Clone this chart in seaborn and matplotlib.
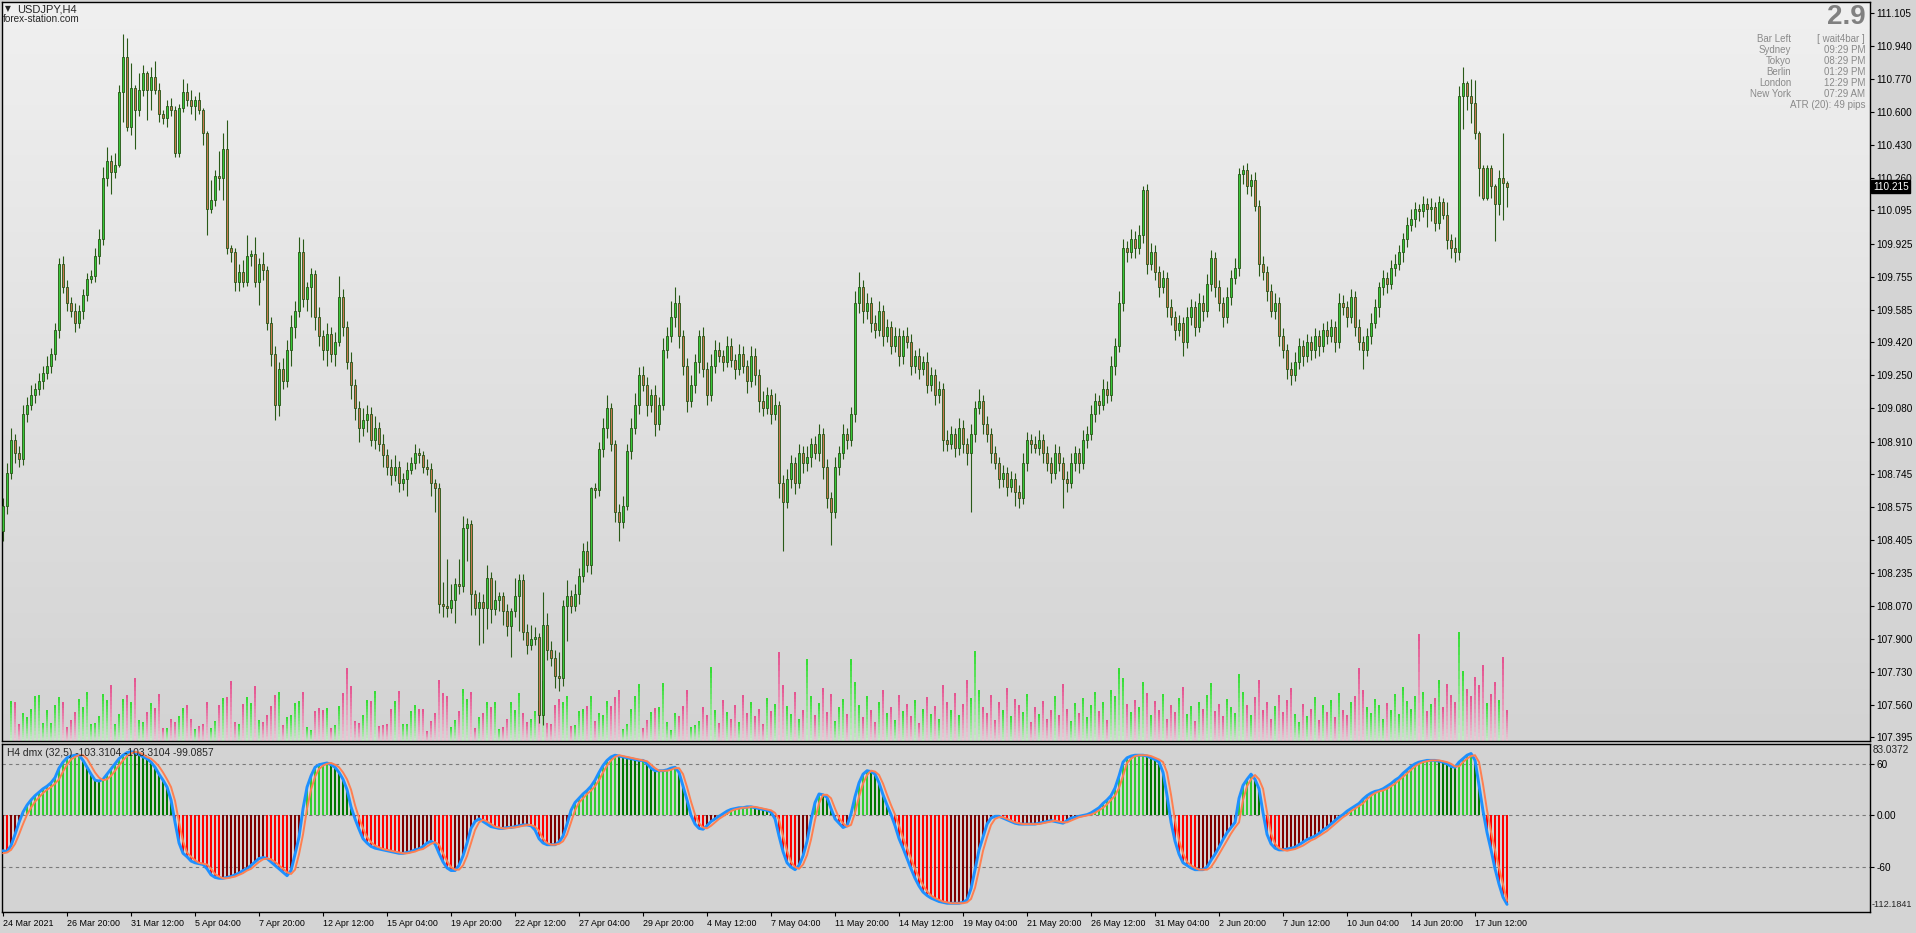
import numpy as np
import pandas as pd
import matplotlib.pyplot as plt
import seaborn as sns
from matplotlib.colors import LinearSegmentedColormap, to_rgb

# ---- values (377 bars) ----
first_open = 108.45
close = [
    108.58, 108.75, 108.92, 108.85, 108.82, 109.05, 109.10, 109.15, 109.18, 109.22,
    109.26, 109.30, 109.36, 109.48, 109.82, 109.70, 109.62, 109.58, 109.52, 109.58,
    109.66, 109.745, 109.76, 109.86, 109.95, 110.26, 110.35, 110.29, 110.33, 110.70,
    110.88, 110.52, 110.72, 110.61, 110.71, 110.80, 110.71, 110.78, 110.71, 110.59,
    110.57, 110.63, 110.61, 110.39, 110.62, 110.70, 110.66, 110.63, 110.66, 110.61,
    110.49, 110.10, 110.15, 110.27, 110.26, 110.41, 109.90, 109.88, 109.73, 109.78,
    109.73, 109.86, 109.87, 109.73, 109.82, 109.79, 109.52, 109.36, 109.10, 109.28,
    109.22, 109.38, 109.50, 109.58, 109.88, 109.64, 109.70, 109.77, 109.55, 109.45,
    109.38, 109.46, 109.36, 109.42, 109.65, 109.50, 109.32, 109.20, 109.08, 108.98,
    109.02, 109.05, 108.92, 108.98, 108.90, 108.84, 108.78, 108.74, 108.78, 108.70,
    108.72, 108.765, 108.80, 108.85, 108.84, 108.78, 108.77, 108.70, 108.67, 108.08,
    108.07, 108.06, 108.10, 108.18, 108.17, 108.47, 108.49, 108.13, 108.06, 108.09,
    108.06, 108.21, 108.05, 108.10, 108.12, 108.04, 107.965, 108.04, 108.12, 108.20,
    107.935, 107.87, 107.90, 107.91, 107.51, 107.97, 107.84, 107.80, 107.71, 107.70,
    108.07, 108.12, 108.07, 108.13, 108.22, 108.35, 108.28, 108.67, 108.66, 108.87,
    108.98, 109.08, 108.90, 108.55, 108.50, 108.58, 108.86, 108.98, 109.10, 109.25,
    109.20, 109.10, 109.15, 109.00, 109.10, 109.38, 109.45, 109.55, 109.62, 109.45,
    109.30, 109.12, 109.20, 109.32, 109.45, 109.28, 109.15, 109.30, 109.38, 109.35,
    109.32, 109.40, 109.33, 109.28, 109.36, 109.30, 109.22, 109.35, 109.25, 109.12,
    109.08, 109.15, 109.05, 109.10, 108.70, 108.60, 108.72, 108.80, 108.70, 108.85,
    108.80, 108.83, 108.90, 108.85, 108.95, 108.78, 108.62, 108.55, 108.78, 108.85,
    108.95, 108.92, 109.05, 109.62, 109.70, 109.58, 109.62, 109.52, 109.48, 109.58,
    109.45, 109.50, 109.40, 109.45, 109.35, 109.45, 109.42, 109.30, 109.35, 109.28,
    109.32, 109.20, 109.25, 109.15, 109.18, 108.92, 108.90, 108.95, 108.88, 108.98,
    108.90, 108.85, 108.95, 109.08, 109.12, 109.00, 108.95, 108.85, 108.80, 108.72,
    108.75, 108.68, 108.72, 108.65, 108.62, 108.80, 108.92, 108.90, 108.88, 108.92,
    108.85, 108.80, 108.75, 108.85, 108.80, 108.72, 108.70, 108.80, 108.85, 108.80,
    108.92, 108.95, 109.05, 109.12, 109.10, 109.18, 109.15, 109.30, 109.40, 109.62,
    109.90, 109.88, 109.95, 109.90, 109.97, 110.20, 109.82, 109.88, 109.78, 109.70,
    109.75, 109.60, 109.55, 109.48, 109.52, 109.42, 109.55, 109.60, 109.50, 109.62,
    109.58, 109.72, 109.85, 109.70, 109.62, 109.55, 109.65, 109.75, 109.80, 110.28,
    110.30, 110.22, 110.25, 110.12, 109.82, 109.78, 109.68, 109.58, 109.62, 109.45,
    109.38, 109.28, 109.25, 109.32, 109.40, 109.35, 109.42, 109.38, 109.45, 109.40,
    109.48, 109.45, 109.50, 109.42, 109.62, 109.60, 109.55, 109.65, 109.50, 109.42,
    109.38, 109.45, 109.52, 109.60, 109.70, 109.75, 109.72, 109.80, 109.82, 109.88,
    109.95, 110.02, 110.05, 110.10, 110.09, 110.127, 110.10, 110.11, 110.03, 110.14,
    110.07, 109.945, 109.90, 109.88, 110.68, 110.75, 110.68, 110.645, 110.49, 110.31,
    110.16, 110.31, 110.22, 110.13, 110.26, 110.235, 110.215]

# shadows beyond the body, in 0.01 yen
wick_up = [
    4, 5, 6, 3, 4, 5, 4, 5, 3, 4, 4, 5, 3, 4, 3, 4, 4, 3, 4, 3,
    3, 3, 3, 4, 5, 6, 7, 3, 6, 4, 12, 10, 13, 2, 9, 4, 1, 5, 8, 4,
    2, 3, 4, 2, 2, 7, 5, 5, 2, 4, 1, 1, 10, 3, 13, 8, 15, 2, 2, 4,
    6, 11, 2, 9, 3, 6, 2, 3, 4, 4, 6, 5, 6, 5, 8, 7, 3, 3, 2, 5,
    3, 6, 4, 5, 11, 4, 3, 5, 3, 4, 6, 5, 4, 6, 3, 5, 3, 4, 6, 3,
    3, 4, 3, 5, 3, 2, 4, 3, 2, 3, 11, 24, 8, 3, 13, 6, 3, 2, 2, 5,
    4, 7, 3, 10, 2, 2, 4, 2, 9, 3, 3, 4, 7, 5, 2, 17, 6, 5, 4, 12,
    3, 8, 3, 5, 4, 4, 5, 1, 3, 4, 5, 7, 3, 2, 4, 5, 4, 5, 6, 4,
    5, 4, 3, 5, 4, 6, 5, 8, 8, 4, 3, 4, 5, 4, 3, 5, 4, 6, 5, 4,
    3, 5, 4, 3, 5, 4, 3, 5, 4, 3, 5, 4, 3, 6, 2, 4, 5, 4, 3, 5,
    4, 6, 3, 4, 5, 3, 4, 3, 5, 4, 5, 3, 4, 6, 8, 4, 5, 3, 4, 5,
    3, 4, 3, 5, 4, 3, 5, 4, 3, 4, 3, 5, 4, 3, 4, 3, 5, 4, 3, 5,
    4, 3, 5, 4, 6, 3, 4, 3, 4, 3, 4, 3, 4, 3, 4, 5, 4, 3, 4, 5,
    3, 4, 3, 5, 4, 3, 4, 5, 4, 3, 5, 4, 5, 4, 3, 5, 4, 5, 4, 6,
    5, 4, 5, 4, 5, 2, 3, 5, 4, 3, 4, 3, 4, 3, 4, 3, 5, 4, 3, 5,
    4, 5, 4, 3, 4, 3, 5, 4, 5, 3, 3, 4, 3, 4, 3, 4, 3, 4, 5, 3,
    4, 3, 4, 5, 4, 3, 4, 3, 4, 3, 4, 5, 4, 3, 5, 4, 3, 4, 3, 4,
    3, 4, 5, 4, 3, 4, 3, 4, 5, 4, 3, 4, 5, 4, 3, 4, 3, 5, 3, 3,
    2, 7, 3, 6, 5, 8, 1, 9, 12, 1, 2, 2, 2, 1, 4, 23, 1]
wick_dn = [
    5, 4, 3, 5, 4, 3, 4, 3, 4, 3, 4, 3, 4, 3, 4, 3, 4, 3, 5, 3,
    4, 3, 2, 3, 4, 3, 4, 11, 3, 1, 15, 2, 4, 20, 3, 3, 15, 10, 2, 4,
    3, 5, 3, 2, 2, 2, 3, 4, 7, 2, 6, 13, 2, 3, 6, 11, 3, 5, 5, 5,
    3, 2, 5, 3, 12, 5, 4, 6, 8, 6, 4, 3, 8, 6, 3, 4, 6, 15, 7, 5,
    5, 8, 4, 6, 2, 5, 4, 7, 6, 7, 4, 6, 3, 5, 4, 6, 4, 5, 3, 5,
    4, 9, 2, 3, 4, 3, 3, 7, 12, 5, 6, 5, 3, 12, 4, 3, 17, 11, 4, 19,
    18, 11, 7, 3, 6, 7, 5, 16, 3, 18, 4, 5, 3, 3, 4, 5, 5, 4, 6, 7,
    4, 18, 4, 3, 5, 3, 4, 5, 4, 3, 4, 5, 4, 5, 10, 3, 2, 4, 3, 5,
    3, 6, 4, 6, 3, 3, 4, 3, 5, 6, 5, 6, 3, 4, 6, 4, 5, 3, 4, 3,
    5, 3, 4, 5, 3, 4, 6, 3, 5, 6, 4, 3, 5, 3, 8, 25, 3, 5, 6, 3,
    5, 4, 5, 3, 4, 6, 5, 17, 3, 4, 3, 5, 3, 4, 5, 6, 4, 5, 4, 3,
    5, 3, 4, 3, 5, 4, 3, 5, 4, 5, 3, 4, 3, 5, 4, 6, 4, 3, 5, 4,
    5, 6, 30, 4, 3, 5, 4, 5, 3, 5, 4, 5, 3, 7, 5, 3, 4, 5, 3, 4,
    5, 4, 5, 3, 4, 15, 5, 3, 4, 5, 3, 4, 3, 4, 5, 3, 4, 3, 5, 3,
    4, 5, 3, 5, 3, 4, 5, 3, 4, 5, 3, 5, 4, 5, 3, 7, 3, 4, 5, 3,
    5, 3, 4, 5, 4, 5, 3, 4, 3, 4, 5, 4, 5, 3, 6, 4, 5, 3, 4, 5,
    4, 5, 5, 3, 4, 5, 3, 5, 4, 5, 3, 4, 3, 5, 3, 4, 5, 3, 5, 4,
    10, 3, 4, 3, 5, 4, 5, 3, 4, 3, 5, 4, 3, 4, 5, 3, 9, 6, 4, 3,
    2, 5, 5, 5, 4, 17, 7, 10, 3, 14, 1, 1, 6, 19, 6, 19, 10]

# tick volume (hundreds)
volume = [
    0, 0, 39, 38, 17, 27, 23, 31, 44, 45, 18, 30, 18, 35, 43, 38, 14, 21, 28, 41,
    33, 48, 17, 18, 24, 46, 40, 55, 17, 26, 41, 45, 38, 62, 21, 19, 28, 37, 32, 46,
    13, 13, 22, 19, 24, 32, 35, 22, 12, 15, 17, 38, 13, 20, 35, 42, 43, 59, 19, 17,
    36, 43, 37, 54, 21, 19, 25, 34, 45, 48, 16, 23, 25, 37, 39, 48, 14, 11, 29, 32,
    30, 32, 13, 16, 34, 47, 71, 54, 20, 18, 25, 40, 39, 49, 15, 16, 17, 31, 39, 49,
    17, 17, 29, 35, 31, 31, 10, 20, 27, 60, 47, 44, 14, 21, 29, 51, 41, 48, 13, 23,
    27, 38, 33, 38, 12, 14, 22, 38, 30, 47, 27, 19, 22, 29, 39, 59, 18, 17, 35, 41,
    38, 44, 15, 16, 29, 31, 34, 44, 20, 27, 25, 39, 34, 43, 50, 12, 17, 31, 44, 56,
    13, 21, 28, 32, 33, 57, 19, 11, 27, 24, 34, 50, 14, 16, 20, 33, 25, 72, 30, 18,
    40, 28, 22, 35, 19, 45, 27, 38, 24, 31, 17, 42, 29, 36, 87, 55, 34, 26, 48, 22,
    30, 80, 44, 25, 37, 52, 28, 46, 20, 33, 41, 26, 80, 58, 35, 23, 44, 30, 19, 38,
    50, 27, 33, 21, 45, 29, 36, 24, 40, 18, 31, 43, 26, 34, 22, 55, 38, 30, 47, 25,
    36, 60, 42, 88, 50, 33, 27, 45, 21, 38, 30, 52, 24, 41, 35, 28, 46, 19, 33, 26,
    39, 22, 30, 44, 25, 56, 31, 20, 37, 27, 42, 23, 35, 48, 29, 38, 21, 50, 44, 71,
    62, 36, 28, 40, 33, 58, 47, 25, 39, 30, 46, 22, 35, 28, 42, 53, 26, 34, 20, 38,
    31, 45, 57, 29, 36, 24, 41, 33, 27, 66, 48, 35, 25, 43, 60, 30, 38, 22, 34, 45,
    28, 40, 52, 26, 19, 36, 24, 31, 43, 21, 35, 28, 40, 23, 47, 30, 25, 38, 44, 71,
    50, 33, 27, 41, 35, 22, 37, 30, 46, 26, 53, 39, 31, 44, 105, 48, 29, 36, 42, 60,
    33, 56, 45, 38, 107, 68, 51, 44, 63, 55, 74, 37, 46, 58, 40, 82, 30]

# "dmx (32,5)" oscillator: main line (also the histogram) and signal line
dmx_main = [
    -41, -42, -35, -22, -8, 4, 12, 18, 23, 27, 31, 34, 38, 44, 55, 62, 67, 69, 70, 70,
    64, 56, 48, 41, 40, 42, 48, 54, 60, 66, 70, 73, 74, 73, 71, 68, 66, 62, 56, 48,
    41, 33, 18, -8, -32, -44, -48, -53, -55, -56, -57, -62, -69, -72, -73, -73, -72, -71, -69, -67,
    -64, -62, -58, -54, -50, -49, -50, -54, -58, -62, -66, -70, -64, -45, -25, 8, 33, 46, 56, 59,
    60, 61, 59, 56, 50, 42, 30, 10, -4, -16, -27, -32, -36, -38, -39, -40, -41, -42, -43, -44,
    -44, -43, -42, -40, -39, -36, -32, -30, -33, -44, -54, -61, -64, -64, -58, -47, -32, -15, -7, -4,
    -7, -10, -13, -14, -15, -15, -14, -14, -13, -12, -11, -11, -12, -17, -27, -32, -34, -34, -34, -31,
    -24, -10, 6, 15, 20, 25, 29, 34, 41, 50, 58, 64, 68, 70, 69, 68, 67, 66, 65, 64,
    64, 60, 55, 52, 52, 52, 53, 55, 56, 50, 34, 18, 0, -10, -15, -16, -12, -7, -4, -1,
    2, 5, 7, 8, 9, 9, 10, 10, 9, 8, 7, 6, 4, -4, -24, -42, -55, -60, -63, -58,
    -47, -30, -5, 15, 25, 24, 21, 8, -4, -9, -14, -12, 2, 22, 38, 48, 52, 51, 48, 38,
    24, 12, 1, -12, -27, -38, -50, -62, -73, -82, -89, -93, -96, -98, -100, -101, -102, -102, -102, -102,
    -101, -98, -85, -63, -40, -25, -10, -3, -1, -1, -3, -5, -7, -9, -10, -10, -10, -10, -10, -9,
    -8, -7, -6, -7, -8, -9, -6, -3, -2, -1, 0, 1, 3, 6, 9, 14, 18, 23, 32, 46,
    62, 67, 69, 70, 70, 70, 69, 67, 65, 62, 50, 23, -8, -30, -45, -55, -58, -61, -63, -63,
    -63, -60, -52, -45, -37, -28, -20, -14, -8, 20, 35, 42, 48, 42, 31, 3, -22, -33, -38, -40,
    -40, -39, -38, -37, -34, -31, -28, -26, -24, -21, -17, -14, -10, -6, -2, 1, 5, 8, 11, 14,
    19, 23, 26, 28, 29, 31, 34, 37, 41, 44, 49, 53, 57, 60, 62, 63, 64, 64, 64, 63,
    62, 60, 57, 56, 62, 66, 70, 72, 64, 35, 5, -20, -40, -62, -80, -95, -103.3104]
dmx_signal = [
    -44, -43, -40, -33, -22, -10, 1, 9, 16, 21, 26, 30, 33, 37, 42, 51, 59, 65, 68, 70,
    70, 66, 58, 50, 44, 41, 42, 46, 52, 58, 64, 69, 72, 74, 73, 71, 68, 66, 62, 57,
    50, 42, 33, 17, -8, -30, -43, -48, -52, -55, -56, -57, -62, -68, -71, -73, -73, -72, -71, -69,
    -67, -64, -62, -58, -54, -51, -50, -51, -54, -58, -62, -66, -68, -63, -45, -22, 8, 30, 45, 54,
    58, 60, 61, 59, 56, 50, 42, 30, 12, -3, -15, -25, -31, -35, -37, -39, -40, -41, -42, -43,
    -44, -44, -43, -42, -40, -39, -36, -33, -31, -34, -44, -53, -60, -63, -63, -58, -47, -32, -17, -8,
    -5, -7, -10, -13, -14, -15, -15, -14, -14, -13, -12, -11, -11, -13, -18, -27, -32, -34, -34, -33,
    -30, -22, -8, 6, 15, 20, 25, 29, 34, 41, 50, 58, 64, 68, 70, 69, 68, 67, 66, 65,
    64, 63, 59, 55, 52, 52, 52, 53, 55, 55, 48, 33, 16, 1, -9, -14, -15, -12, -8, -4,
    -1, 2, 5, 7, 8, 9, 9, 10, 10, 9, 8, 7, 6, 3, -5, -24, -41, -54, -60, -62,
    -57, -46, -28, -5, 14, 24, 24, 20, 8, -3, -9, -13, -11, 3, 22, 37, 47, 52, 51, 47,
    37, 24, 12, 1, -12, -26, -38, -50, -62, -72, -81, -88, -93, -96, -98, -100, -101, -102, -102, -102,
    -102, -101, -97, -84, -63, -41, -25, -11, -4, -2, -2, -4, -6, -8, -9, -10, -10, -10, -10, -10,
    -9, -8, -7, -6, -7, -8, -8, -6, -4, -2, -1, 0, 1, 3, 6, 9, 13, 18, 23, 32,
    46, 61, 66, 69, 70, 70, 70, 69, 67, 65, 62, 50, 24, -6, -29, -44, -54, -58, -61, -63,
    -63, -63, -60, -53, -45, -37, -29, -21, -14, -8, 18, 34, 42, 47, 42, 31, 4, -21, -33, -38,
    -40, -41, -40, -39, -37, -35, -32, -29, -27, -24, -21, -18, -14, -10, -6, -2, 1, 5, 8, 11,
    14, 19, 23, 26, 28, 29, 31, 34, 37, 41, 45, 49, 53, 57, 60, 62, 63, 64, 64, 64,
    63, 62, 60, 57, 57, 62, 66, 69, 70, 62, 36, 6, -19, -40, -61, -80, -99.0857]

price_labels = ['111.105', '110.940', '110.770', '110.600', '110.430', '110.260',
                '110.095', '109.925', '109.755', '109.585', '109.420', '109.250',
                '109.080', '108.910', '108.745', '108.575', '108.405', '108.235',
                '108.070', '107.900', '107.730', '107.560', '107.395']
time_labels = ['24 Mar 2021', '26 Mar 20:00', '31 Mar 12:00', '5 Apr 04:00',
               '7 Apr 20:00', '12 Apr 12:00', '15 Apr 04:00', '19 Apr 20:00',
               '22 Apr 12:00', '27 Apr 04:00', '29 Apr 20:00', '4 May 12:00',
               '7 May 04:00', '11 May 20:00', '14 May 12:00', '19 May 04:00',
               '21 May 20:00', '26 May 12:00', '31 May 04:00', '2 Jun 20:00',
               '7 Jun 12:00', '10 Jun 04:00', '14 Jun 20:00', '17 Jun 12:00']
bars_per_label = 16
dmx_levels = [60, 0, -60]
dmx_level_labels = ['60', '0.00', '-60']
dmx_max, dmx_min = 83.0372, -112.1841
last_price = '110.215'
info_rows = [('Bar Left', '[ wait4bar ]'), ('Sydney', '09:29 PM'), ('Tokyo', '08:29 PM'),
             ('Berlin', '01:29 PM'), ('London', '12:29 PM'), ('New York', '07:29 AM')]
atr_text = 'ATR (20): 49 pips'
spread_text = '2.9'

# ---- frame ----
df = pd.DataFrame({'close': close, 'volume': volume,
                   'main': dmx_main, 'signal': dmx_signal})
df['bar'] = np.arange(len(df))
df['open'] = df['close'].shift(1).fillna(first_open)
body_top = df[['open', 'close']].max(axis=1)
body_bot = df[['open', 'close']].min(axis=1)
df['high'] = body_top + np.array(wick_up) / 100
df['low'] = body_bot - np.array(wick_dn) / 100
up = (df['close'] >= df['open']).values

sns.set_theme(style='white')
plt.rcParams['font.family'] = ['Liberation Sans', 'DejaVu Sans']
plt.rcParams['font.size'] = 7

W, H = 1916, 933
FIG_BG = '#D4D4D4'
AX_FS = 7.2     # price / level labels
TIME_FS = 6.4   # time labels
fig = plt.figure(figsize=(W / 100, H / 100), dpi=100, facecolor=FIG_BG)


def box(x0, y0, x1, y1):
    return [x0 / W, 1 - y1 / H, (x1 - x0) / W, (y1 - y0) / H]


XLIM = (-0.26, 466.74)
axv = fig.add_axes(box(2, 2, 1870, 741))
ax = fig.add_axes(box(2, 2, 1870, 741), sharex=axv)
axi = fig.add_axes(box(2, 744, 1870, 912), sharex=axv)

# main background gradient + volume (bottom layer)
vol_top = df['volume'].max() / 0.148
bg = LinearSegmentedColormap.from_list('bg', ['#F0F0F0', '#D3D3D3'])
axv.imshow(np.linspace(0, 1, 256)[:, None], cmap=bg, aspect='auto', origin='upper',
           extent=(XLIM[0], XLIM[1], 0, vol_top), zorder=0)


def mix(c0, c1, t):
    a, b = np.array(to_rgb(c0)), np.array(to_rgb(c1))
    return tuple(a + (b - a) * t)


nseg = 14
vol = df['volume'].values.astype(float)
for k in range(nseg):
    t = (k + 0.5) / nseg
    cu = mix('#C8EAC8', '#30DC30', t ** 1.1)
    cd = mix('#EACAD6', '#E4508E', t ** 1.1)
    axv.bar(df['bar'], vol / nseg, bottom=vol * k / nseg, width=0.6,
            color=[cu if u else cd for u in up], linewidth=0, zorder=2)
axv.set_ylim(0, vol_top)
axv.set_yticks([])
axv.tick_params(bottom=False, labelbottom=False, left=False, right=False)
for s in axv.spines.values():
    s.set_visible(False)

# candles
ax.patch.set_visible(False)
ax.vlines(df['bar'], df['low'], df['high'], color='#2A5A18', lw=0.8, zorder=2)
ax.bar(df['bar'], (body_top - body_bot).clip(lower=0.004), bottom=body_bot, width=0.62,
       color=np.where(up, '#38C838', '#C8784E'), edgecolor='#245414', linewidth=0.6, zorder=3)
ax.set_ylim(107.376, 111.163)
ax.yaxis.tick_right()
ax.set_yticks([float(s) for s in price_labels])
ax.set_yticklabels(price_labels)
ax.tick_params(axis='y', right=True, left=False, direction='out', length=3, width=0.8,
               pad=1.5, labelsize=AX_FS, colors='black')
ax.tick_params(axis='x', bottom=False, labelbottom=False)
for s in ax.spines.values():
    s.set_color('black')
    s.set_linewidth(1.0)
ax.annotate(last_price, xy=(1, float(last_price)), xycoords=ax.get_yaxis_transform(),
            xytext=(2.0, 0), textcoords='offset points', ha='left', va='center',
            fontsize=AX_FS, color='white',
            bbox=dict(boxstyle='square,pad=0.15', fc='black', ec='black'))

# indicator window
axi.set_facecolor('#D3D3D3')
m = df['main'].values
d = np.diff(m, prepend=m[0])
hist_col = np.where(m >= 0, np.where(d >= 0, '#32CD32', '#007800'),
                    np.where(d < 0, '#FF0000', '#800000'))
axi.bar(df['bar'], df['main'], width=0.5, color=hist_col, linewidth=0, zorder=2)
for lv in dmx_levels:
    axi.axhline(lv, color='#7A7A7A', lw=0.8, ls=(0, (3, 3)), zorder=1)
sns.lineplot(data=df, x='bar', y='main', ax=axi, color='#1E90FF', lw=2.1, zorder=3)
sns.lineplot(data=df, x='bar', y='signal', ax=axi, color='#FF7F50', lw=1.4, zorder=4)
axi.set_xlabel('')
axi.set_ylabel('')
axi.set_ylim(dmx_min, dmx_max)
axi.yaxis.tick_right()
axi.set_yticks(dmx_levels)
axi.set_yticklabels(dmx_level_labels)
axi.tick_params(axis='y', right=True, left=False, direction='out', length=3, width=0.8,
                pad=1.5, labelsize=AX_FS, colors='black')
axi.set_xticks(np.arange(len(time_labels)) * bars_per_label)
axi.set_xticklabels(time_labels)
axi.tick_params(axis='x', bottom=True, direction='out', length=3, width=0.8, pad=2.2,
                labelsize=TIME_FS, colors='black')
for lbl in axi.get_xticklabels():
    lbl.set_horizontalalignment('left')
for s in axi.spines.values():
    s.set_color('black')
    s.set_linewidth(1.0)
axi.annotate(f'{dmx_max:.4f}', xy=(1, dmx_max), xycoords=axi.get_yaxis_transform(),
             xytext=(2.2, -1), textcoords='offset points', ha='left', va='top', fontsize=AX_FS)
axi.annotate(f'{dmx_min:.4f}', xy=(1, dmx_min), xycoords=axi.get_yaxis_transform(),
             xytext=(1.5, 2.5), textcoords='offset points', ha='left', va='bottom',
             fontsize=6.6)
axv.set_xlim(XLIM)

# texts
fig.text(5 / W, 1 - 9 / H, '\u25bc', fontsize=5.5, family='DejaVu Sans', va='center')
fig.text(17 / W, 1 - 9.5 / H, 'USDJPY,H4', fontsize=8, va='center')
fig.text(3 / W, 1 - 18.5 / H, 'forex-station.com', fontsize=7.2, va='center')
fig.text(7 / W, 1 - 753 / H,
         f'H4 dmx (32,5) {dmx_main[-1]:.4f} {dmx_main[-1]:.4f} {dmx_signal[-1]:.4f}',
         fontsize=7.4, va='center')
fig.text(1866 / W, 1 - 17 / H, spread_text, fontsize=20, fontweight='bold',
         color='#808080', ha='right', va='center')
for i, (name, val) in enumerate(info_rows):
    y = 1 - (39 + 11 * i) / H
    fig.text(1791 / W, y, name, fontsize=7, color='#8A8A8A', ha='right', va='center')
    fig.text(1865 / W, y, val, fontsize=7, color='#8A8A8A', ha='right', va='center')
fig.text(1865 / W, 1 - 105 / H, atr_text, fontsize=7, color='#8A8A8A', ha='right', va='center')

fig.savefig('out.png', dpi=100, facecolor=FIG_BG)
